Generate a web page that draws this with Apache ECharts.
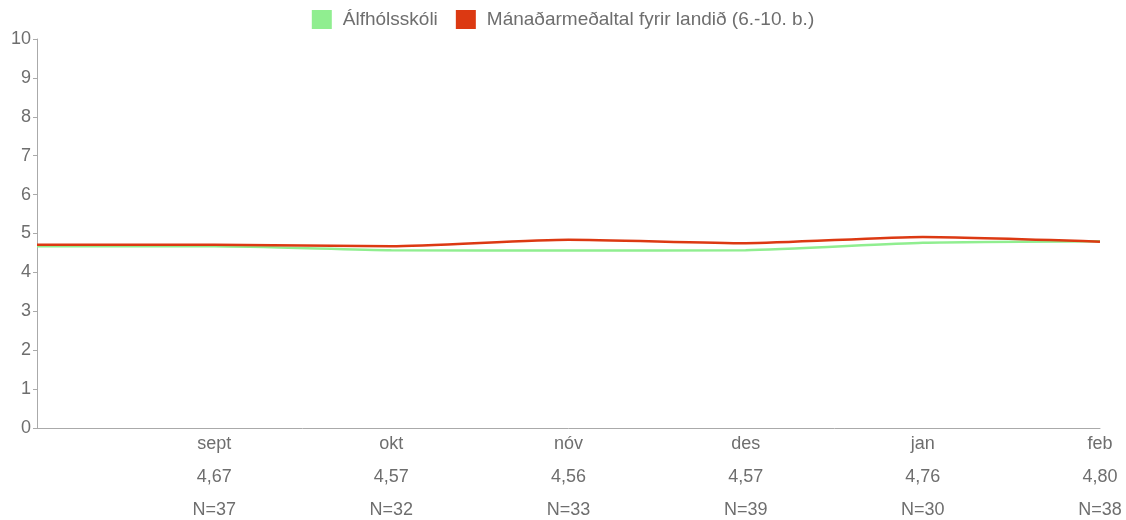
<!DOCTYPE html>
<html>
<head>
<meta charset="utf-8">
<script src="https://cdn.jsdelivr.net/npm/echarts@6/dist/echarts.min.js"></script>
<style>html,body{margin:0;padding:0;background:#fff}#c{width:1126px;height:520px}</style>
</head>
<body>
<div id="c"></div>
<script>
const months = ['', 'sept', 'okt', 'nóv', 'des', 'jan', 'feb'];
const schoolName = 'Álfhólsskóli';
const nationalName = 'Mánaðarmeðaltal fyrir landið (6.-10. b.)';
const schoolValues = [4.67, 4.67, 4.57, 4.56, 4.57, 4.76, 4.80];
const nationalValues = [4.71, 4.71, 4.67, 4.84, 4.75, 4.91, 4.79];
const valueLabels = ['', '4,67', '4,57', '4,56', '4,57', '4,76', '4,80'];
const countLabels = ['', 'N=37', 'N=32', 'N=33', 'N=39', 'N=30', 'N=38'];
const yTicks = [0, 1, 2, 3, 4, 5, 6, 7, 8, 9, 10];

const chart = echarts.init(document.getElementById('c'));
const font = '"Liberation Sans", Arial, sans-serif';
chart.setOption({
  animation: false,
  textStyle: { fontFamily: font },
  legend: {
    top: 5, left: 'center',
    itemWidth: 20, itemHeight: 19, itemGap: 18,
    icon: 'rect',
    textStyle: { color: '#6e6e6e', fontSize: 19, fontFamily: font, padding: [0, 0, 0, 6] },
    data: [schoolName, nationalName]
  },
  grid: { left: 37, right: 26, top: 39, bottom: 92, outerBoundsMode: 'none', containLabel: false },
  xAxis: {
    type: 'category',
    boundaryGap: false,
    data: months,
    axisLine: { lineStyle: { color: '#aaa', width: 1 } },
    axisTick: { show: false },
    axisLabel: {
      interval: 0, margin: 0, color: '#6e6e6e', fontSize: 18, lineHeight: 33,
      formatter: function (v, i) {
        if (!v) return '';
        return v + '\n' + valueLabels[i] + '\n' + countLabels[i];
      }
    }
  },
  yAxis: {
    type: 'value', min: yTicks[0], max: yTicks[yTicks.length - 1], interval: 1,
    axisLine: { show: true, lineStyle: { color: '#aaa' } },
    axisTick: { show: true, length: 4, lineStyle: { color: '#aaa' } },
    splitLine: { show: false },
    axisLabel: { color: '#6e6e6e', fontSize: 18, margin: 6 }
  },
  series: [
    {
      name: schoolName, type: 'line', data: schoolValues,
      smooth: 0.2, symbol: 'none',
      lineStyle: { color: '#90ee90', width: 2.5 },
      itemStyle: { color: '#90ee90' }
    },
    {
      name: nationalName, type: 'line', data: nationalValues,
      smooth: 0.2, symbol: 'none',
      lineStyle: { color: '#dc3912', width: 2.5 },
      itemStyle: { color: '#dc3912' }
    }
  ]
});
</script>
</body>
</html>
